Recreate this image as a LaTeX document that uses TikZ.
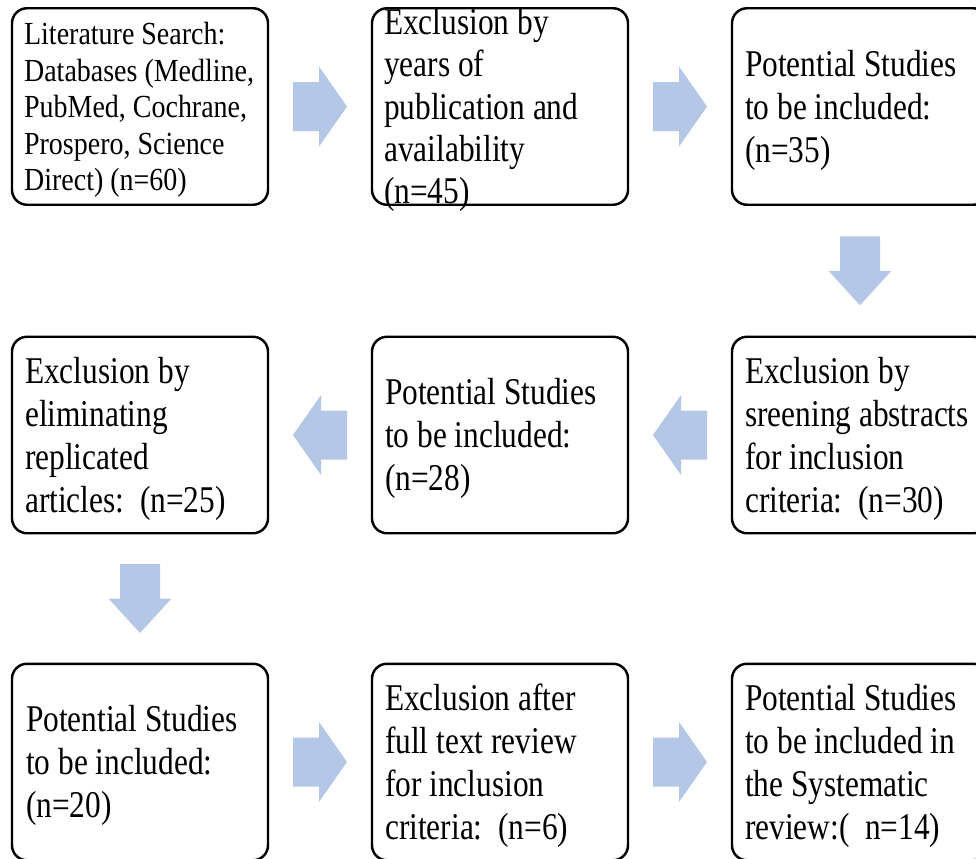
\documentclass[tikz,border=0pt]{standalone}
\usepackage{fontspec}
\setmainfont{Liberation Serif}[FakeStretch=0.83]
\newfontfamily\searchfont{Liberation Serif}[FakeStretch=0.87]
\usetikzlibrary{calc}
\definecolor{arrowblue}{RGB}{180,199,231}
\tikzset{
  harrow/.pic={\fill[arrowblue] (-0.54,0.49) -- (-0.02,0.49) -- (-0.02,0.80) -- (0.54,0) -- (-0.02,-0.80) -- (-0.02,-0.49) -- (-0.54,-0.49) -- cycle;},
  varrow/.pic={\fill[arrowblue] (-0.40,0.69) -- (0.40,0.69) -- (0.40,0) -- (0.63,0) -- (0,-0.69) -- (-0.63,0) -- (-0.40,0) -- cycle;}
}

\begin{document}
\begin{tikzpicture}[
  box/.style={draw, line width=1.4pt, rounded corners=0.3cm, minimum width=5.12cm, minimum height=3.93cm, inner sep=0pt},
  txt/.style={anchor=west, align=flush left, text width=5cm, inner sep=0pt, yshift=-0.07cm, font=\fontsize{21.5}{24.5}\selectfont}
]
\useasboundingbox (0,0) rectangle (19.52,-17.16);
\clip (0,0) rectangle (19.52,-17.16);
\node[box] (b1) at (2.8,-2.13) {};
\node[box] (b2) at (10.0,-2.13) {};
\node[box] (b3) at (17.2,-2.13) {};
\node[box] (b4) at (2.8,-8.70) {};
\node[box] (b5) at (10.0,-8.70) {};
\node[box] (b6) at (17.2,-8.70) {};
\node[box] (b7) at (2.8,-15.24) {};
\node[box] (b8) at (10.0,-15.24) {};
\node[box] (b9) at (17.2,-15.24) {};
\node[txt, font=\searchfont\fontsize{18.3}{20.8}\selectfont] (t1) at ([xshift=0.26cm]b1.west) {Literature Search:\\ Databases (Medline,\\ PubMed, Cochrane,\\ Prospero, Science\\ Direct) (n=60)};
\node[txt, font=\fontsize{21.5}{24}\selectfont] (t2) at ([xshift=0.26cm]b2.west) {Exclusion by\\ years of\\ publication and\\ availability\\ (n=45)};
\node[txt] (t3) at ([xshift=0.28cm]b3.west) {Potential Studies\\ to be included:\\ (n=35)};
\node[txt] (t4) at ([xshift=0.28cm]b4.west) {Exclusion by\\ eliminating\\ replicated\\ articles:~~(n=25)};
\node[txt] (t5) at ([xshift=0.28cm]b5.west) {Potential Studies\\ to be included:\\ (n=28)};
\node[txt] (t6) at ([xshift=0.28cm]b6.west) {Exclusion by\\ sreening abstracts\\ for inclusion\\ criteria:~~(n=30)};
\node[txt] (t7) at ([xshift=0.3cm]b7.west) {Potential Studies\\ to be included:\\ (n=20)};
\node[txt] (t8) at ([xshift=0.28cm]b8.west) {Exclusion after\\ full text review\\ for inclusion\\ criteria:~~(n=6)};
\node[txt] (t9) at ([xshift=0.28cm]b9.west) {Potential Studies\\ to be included in\\ the Systematic\\ review:(~~n=14)};
\pic at ($(b1.east)!0.5!(b2.west)$) {harrow};
\pic at ($(b2.east)!0.5!(b3.west)$) {harrow};
\pic at ($(b3.south)!0.5!(b6.north)$) {varrow};
\pic[rotate=180] at ($(b6.west)!0.5!(b5.east)$) {harrow};
\pic[rotate=180] at ($(b5.west)!0.5!(b4.east)$) {harrow};
\pic at ($(b4.south)!0.5!(b7.north)$) {varrow};
\pic at ($(b7.east)!0.5!(b8.west)$) {harrow};
\pic at ($(b8.east)!0.5!(b9.west)$) {harrow};
\end{tikzpicture}
\end{document}
